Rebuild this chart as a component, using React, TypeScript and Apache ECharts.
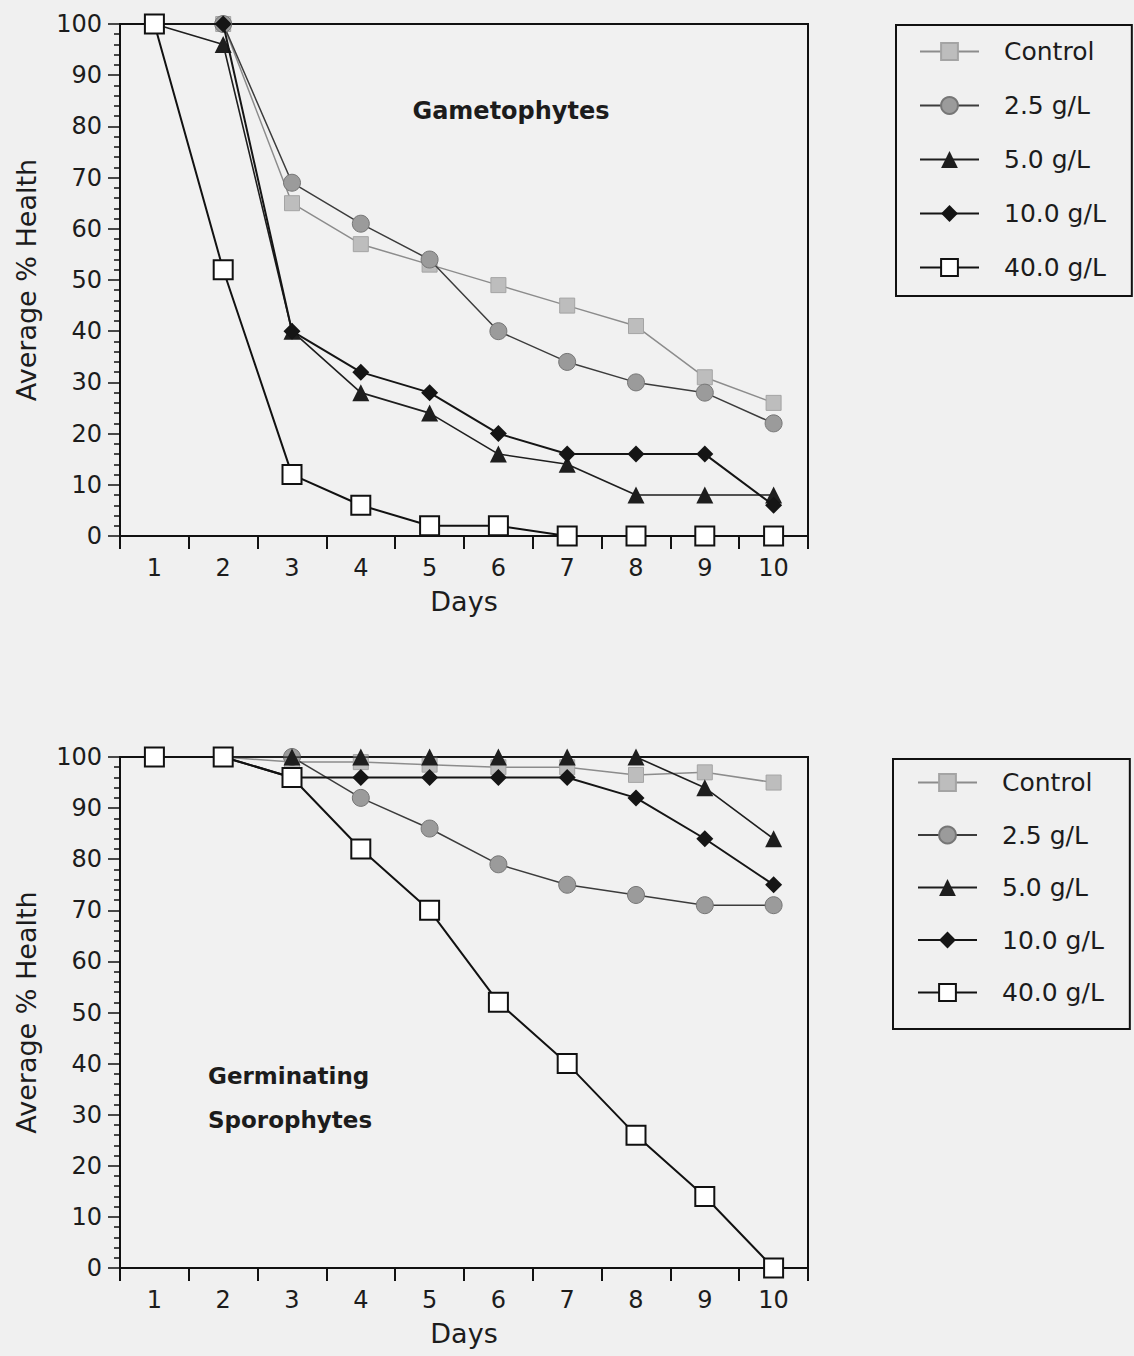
import React, { useEffect, useRef } from "react";
import * as echarts from "echarts";

const days = ["1", "2", "3", "4", "5", "6", "7", "8", "9", "10"];
const seriesNames = ["Control", "2.5 g/L", "5.0 g/L", "10.0 g/L", "40.0 g/L"];

// Gametophytes (top chart)
const gamControl = [100, 100, 65, 57, 53, 49, 45, 41, 31, 26];
const gam25 = [100, 100, 69, 61, 54, 40, 34, 30, 28, 22];
const gam50 = [100, 96, 40, 28, 24, 16, 14, 8, 8, 8];
const gam100 = [100, 100, 40, 32, 28, 20, 16, 16, 16, 6];
const gam400 = [100, 52, 12, 6, 2, 2, 0, 0, 0, 0];

// Germinating sporophytes (bottom chart)
const spoControl = [100, 100, 99, 99, 98.5, 98, 98, 96.5, 97, 95];
const spo25 = [100, 100, 100, 92, 86, 79, 75, 73, 71, 71];
const spo50 = [100, 100, 100, 100, 100, 100, 100, 100, 94, 84];
const spo100 = [100, 100, 96, 96, 96, 96, 96, 92, 84, 75];
const spo400 = [100, 100, 96, 82, 70, 52, 40, 26, 14, 0];

const yTicks = [0, 10, 20, 30, 40, 50, 60, 70, 80, 90, 100];

const FONT = "DejaVu Sans";
const INK = "#1c1c1c";

const styles = [
  {
    symbol: "rect",
    symbolSize: 15,
    itemStyle: { color: "#bdbdbd", borderColor: "#a4a4a4", borderWidth: 1 },
    lineStyle: { color: "#8c8c8c", width: 1.5 },
  },
  {
    symbol: "circle",
    symbolSize: 17,
    itemStyle: { color: "#9b9b9b", borderColor: "#767676", borderWidth: 1 },
    lineStyle: { color: "#3c3c3c", width: 1.5 },
  },
  {
    symbol: "triangle",
    symbolSize: 17,
    itemStyle: { color: "#1e1e1e" },
    lineStyle: { color: "#1e1e1e", width: 1.6 },
  },
  {
    symbol: "diamond",
    symbolSize: 17,
    itemStyle: { color: "#151515" },
    lineStyle: { color: "#151515", width: 2 },
  },
  {
    symbol: "rect",
    symbolSize: 19,
    itemStyle: { color: "#ffffff", borderColor: "#111111", borderWidth: 2 },
    lineStyle: { color: "#111111", width: 2 },
  },
];

function makeSeries(data: number[][], idx: number) {
  return data.map((d, i) => ({
    name: seriesNames[i],
    type: "line",
    xAxisIndex: idx,
    yAxisIndex: idx,
    data: d,
    symbol: styles[i].symbol,
    symbolSize: styles[i].symbolSize,
    itemStyle: styles[i].itemStyle,
    lineStyle: styles[i].lineStyle,
    z: 2 + i,
  }));
}

function xAxisCfg(gridIndex: number) {
  return {
    type: "category",
    gridIndex,
    data: days,
    boundaryGap: true,
    name: "Days",
    nameLocation: "middle",
    nameGap: 52,
    nameTextStyle: { fontFamily: FONT, fontSize: 27, color: INK },
    axisLine: { show: true, lineStyle: { color: "#111", width: 2 } },
    axisTick: { show: true, length: 13, lineStyle: { color: "#111", width: 2 } },
    axisLabel: { fontFamily: FONT, fontSize: 24, color: INK, margin: 20 },
    splitLine: { show: false },
  };
}

function yAxisCfg(gridIndex: number) {
  return {
    type: "value",
    gridIndex,
    min: yTicks[0],
    max: yTicks[yTicks.length - 1],
    interval: 10,
    name: "Average % Health",
    nameLocation: "middle",
    nameGap: 80,
    nameTextStyle: { fontFamily: FONT, fontSize: 27, color: INK },
    axisLine: { show: true, lineStyle: { color: "#111", width: 2 } },
    axisTick: { show: true, length: 12, lineStyle: { color: "#111", width: 1.5 } },
    minorTick: { show: true, splitNumber: 5, length: 6, lineStyle: { color: "#111", width: 1.5 } },
    axisLabel: { fontFamily: FONT, fontSize: 24, color: INK, margin: 18 },
    splitLine: { show: false },
    minorSplitLine: { show: false },
  };
}

function legendCfg(top: number, left: number, itemGap: number, padding: number[]) {
  return {
    orient: "vertical",
    left,
    top,
    data: seriesNames,
    itemWidth: 59,
    itemHeight: 21,
    itemGap,
    padding,
    borderColor: "#111",
    borderWidth: 2,
    selectedMode: false,
    textStyle: { fontFamily: FONT, fontSize: 25, color: INK, padding: [0, 0, 0, 20] },
  };
}

export default function App() {
  const ref = useRef<HTMLDivElement>(null);
  useEffect(() => {
    if (!ref.current) return;
    const chart = echarts.init(ref.current, null, { renderer: "svg" });
    const option = {
      animation: false,
      backgroundColor: "#f0f0f0",
      grid: [
        { left: 120, top: 24, width: 688, height: 512, show: true, borderColor: "#111", borderWidth: 2, backgroundColor: "#f1f1f1" },
        { left: 120, top: 757, width: 688, height: 511, show: true, borderColor: "#111", borderWidth: 2, backgroundColor: "#f1f1f1" },
      ],
      xAxis: [xAxisCfg(0), xAxisCfg(1)],
      yAxis: [yAxisCfg(0), yAxisCfg(1)],
      legend: [
        legendCfg(25, 896, 29, [14, 26, 16, 23]),
        legendCfg(759, 893, 27.5, [11, 26, 24, 24]),
      ],
      graphic: [
        {
          type: "text",
          x: 511,
          y: 111,
          style: { text: "Gametophytes", fontFamily: FONT, fontWeight: "bold", fontSize: 24, fill: INK, textAlign: "center", textVerticalAlign: "middle" },
        },
        {
          type: "text",
          x: 208,
          y: 1076,
          style: { text: "Germinating", fontFamily: FONT, fontWeight: "bold", fontSize: 23, fill: INK, textAlign: "left", textVerticalAlign: "middle" },
        },
        {
          type: "text",
          x: 208,
          y: 1120,
          style: { text: "Sporophytes", fontFamily: FONT, fontWeight: "bold", fontSize: 23, fill: INK, textAlign: "left", textVerticalAlign: "middle" },
        },
      ],
      series: [
        ...makeSeries([gamControl, gam25, gam50, gam100, gam400], 0),
        ...makeSeries([spoControl, spo25, spo50, spo100, spo400], 1),
      ],
    };
    chart.setOption(option as any);
    return () => chart.dispose();
  }, []);
  return (
    <div
      ref={ref}
      style={{ position: "absolute", left: 0, top: 0, width: 1134, height: 1356 }}
    />
  );
}
